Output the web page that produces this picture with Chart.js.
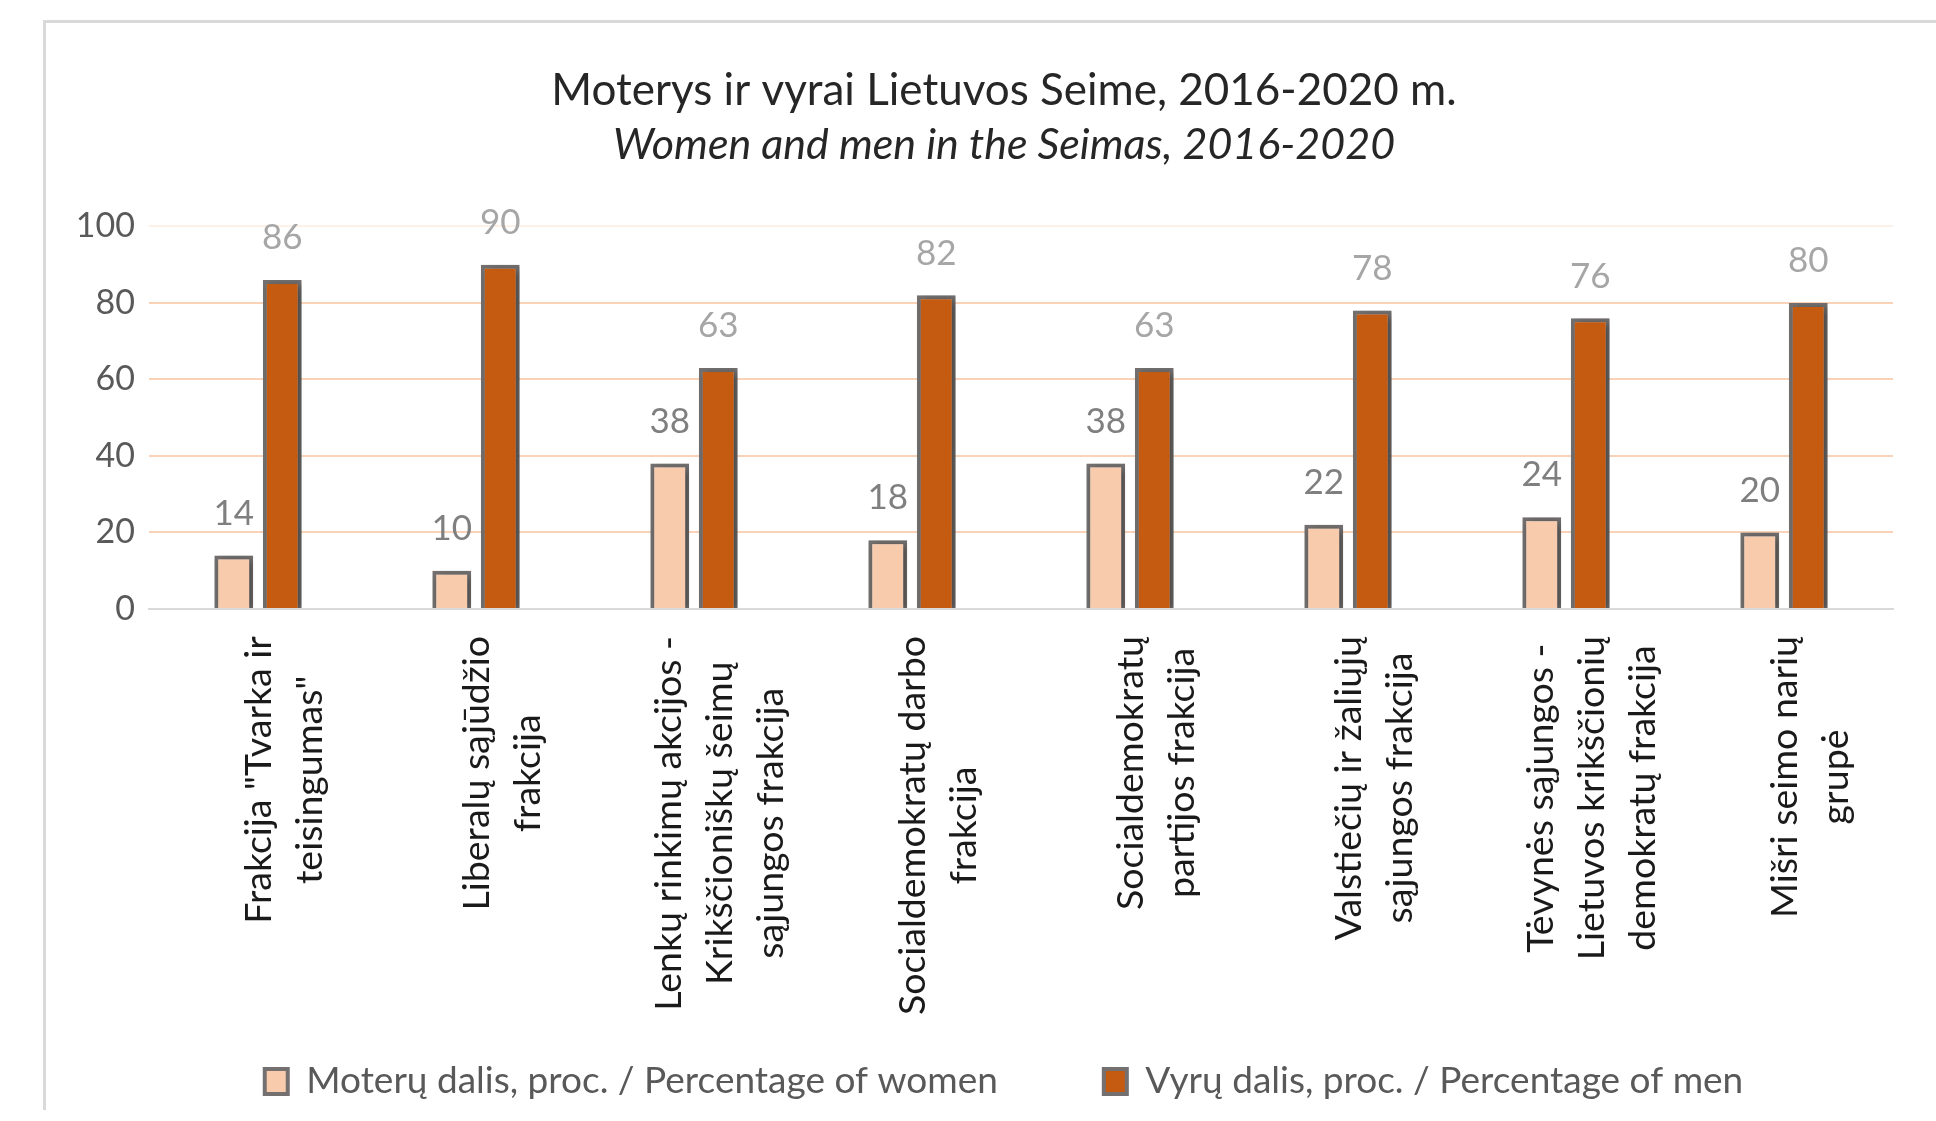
<!DOCTYPE html>
<html>
<head>
<meta charset="utf-8">
<script src="https://cdn.jsdelivr.net/npm/chart.js@4.4.1/dist/chart.umd.min.js"></script>
<style>
  html, body { margin: 0; padding: 0; background: #fff; overflow: hidden; }
  body { width: 1936px; height: 1121px; position: relative; }
  #frame {
    position: absolute; left: 43px; top: 20px;
    border-left: 3px solid #d9d9d9; border-top: 3px solid #d9d9d9;
  }
  #box { position: relative; width: 1916px; height: 1087px; }
</style>
</head>
<body>
<div id="frame"><div id="box"><canvas id="seimas"></canvas></div></div>
<script>
const categories = [
    ['Frakcija "Tvarka ir', 'teisingumas"'],
    ['Liberalų sąjūdžio', 'frakcija'],
    ['Lenkų rinkimų akcijos -', 'Krikščioniškų šeimų', 'sąjungos frakcija'],
    ['Socialdemokratų darbo', 'frakcija'],
    ['Socialdemokratų', 'partijos frakcija'],
    ['Valstiečių ir žaliųjų', 'sąjungos frakcija'],
    ['Tėvynės sąjungos -', 'Lietuvos krikščionių', 'demokratų frakcija'],
    ['Mišri seimo narių', 'grupė']
];
const womenShare = [14, 10, 38, 18, 38, 22, 24, 20];
const menShare = [86, 90, 63, 82, 63, 78, 76, 80];
const seriesNames = ['Moterų dalis, proc. / Percentage of women', 'Vyrų dalis, proc. / Percentage of men'];

const valueColors = ['#7f7f7f', '#a6a6a6'];

// shadows under the bars, value labels and the rotated category labels
const barExtras = {
    id: 'barExtras',
    beforeDatasetsDraw(chart) {
        const ctx = chart.ctx;
        ctx.save();
        ctx.shadowColor = 'rgba(0, 0, 0, 0.4)';
        ctx.shadowBlur = 8;
        ctx.shadowOffsetX = 3;
        ctx.shadowOffsetY = 2;
    },
    afterDatasetsDraw(chart) {
        const ctx = chart.ctx;
        ctx.restore();

        ctx.save();
        ctx.font = '35px Lato';
        ctx.textAlign = 'center';
        ctx.textBaseline = 'middle';
        chart.data.datasets.forEach((ds, di) => {
            ctx.fillStyle = valueColors[di];
            chart.getDatasetMeta(di).data.forEach((bar, i) => {
                ctx.fillText(ds.data[i], bar.x, bar.y - 42);
            });
        });

        const xScale = chart.scales.x;
        ctx.font = '37.5px Lato';
        ctx.fillStyle = '#1a1a1a';
        categories.forEach((lines, i) => {
            const x = xScale.getPixelForValue(i);
            const longest = Math.max(...lines.map(l => ctx.measureText(l).width));
            ctx.save();
            ctx.translate(x, xScale.top + 27 + longest / 2);
            ctx.rotate(-Math.PI / 2);
            lines.forEach((line, j) => {
                ctx.fillText(line, 0, 26 + (j - (lines.length - 1) / 2) * 51);
            });
            ctx.restore();
        });
        ctx.restore();
    }
};

const ctx = document.getElementById('seimas').getContext('2d');

new Chart(ctx, {
    type: 'bar',
    data: {
        labels: categories,
        datasets: [
            {
                label: seriesNames[0],
                data: womenShare,
                backgroundColor: '#f8cbad',
                borderColor: '#747070',
                borderWidth: 4
            },
            {
                label: seriesNames[1],
                data: menShare,
                backgroundColor: '#c55a11',
                borderColor: '#747070',
                borderWidth: 4
            }
        ]
    },
    options: {
        responsive: true,
        maintainAspectRatio: false,
        animation: false,
        layout: { padding: { left: 30, right: 30, top: 0, bottom: 0 } },
        datasets: {
            bar: { categoryPercentage: 0.445, barPercentage: 0.8 }
        },
        plugins: {
            title: {
                display: true,
                text: 'Moterys ir vyrai Lietuvos Seime, 2016-2020 m.',
                color: '#262626',
                font: { family: 'Lato', size: 44, weight: 'normal', lineHeight: 1.2 },
                padding: { top: 41, bottom: 3 }
            },
            subtitle: {
                display: true,
                text: 'Women and men in the Seimas, 2016-2020',
                color: '#262626',
                font: { family: 'Lato', size: 43, style: 'italic', weight: 'normal', lineHeight: 1.2 },
                padding: { top: 0, bottom: 55 }
            },
            legend: {
                position: 'bottom',
                labels: {
                    color: '#595959',
                    font: { family: 'Lato', size: 37 },
                    boxWidth: 23,
                    boxHeight: 25,
                    padding: 106
                }
            },
            tooltip: { enabled: false }
        },
        scales: {
            x: {
                grid: { display: false },
                border: { color: '#d9d9d9', width: 2 },
                ticks: { display: false },
                afterFit: scale => { scale.height = 348; }
            },
            y: {
                min: 0,
                max: 100,
                border: { display: false },
                grid: {
                    drawTicks: false,
                    lineWidth: 2,
                    color: c => c.tick.value === 0 ? 'rgba(0,0,0,0)' : (c.tick.value === 100 ? '#fdf0e6' : '#f9d2b7')
                },
                ticks: {
                    stepSize: 20,
                    padding: 14,
                    color: '#595959',
                    font: { family: 'Lato', size: 34 }
                },
                afterFit: scale => { scale.width = 73; }
            },
            // empty right axis: keeps the plot where it is and the title centred
            yRight: {
                position: 'right',
                display: true,
                grid: { display: false },
                border: { display: false },
                ticks: { display: false },
                afterFit: scale => { scale.width = 39; }
            }
        }
    },
    plugins: [barExtras]
});
</script>
</body>
</html>
